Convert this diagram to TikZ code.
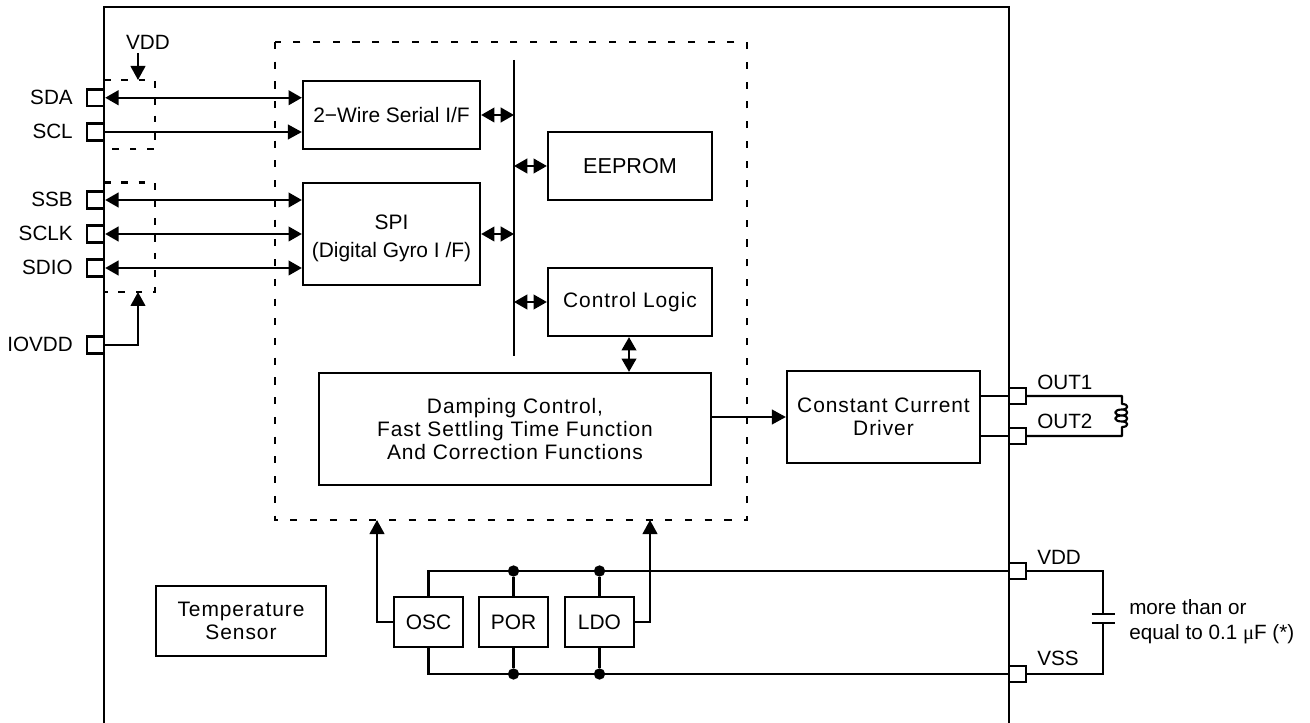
\documentclass[tikz,border=0pt]{standalone}
\usepackage{fontspec}
\setmainfont{Liberation Sans}
\newfontfamily\mufont{Liberation Serif}
\newfontfamily\spaced[LetterSpace=4.5]{Liberation Sans}
\usetikzlibrary{arrows.meta,calc}
\newcommand{\bx}[7][blk]{%
 \node[#1,minimum width={(#5-#3)*0.75pt},minimum height={(#6-#4)*0.75pt}] (#2) at ({(#3+#5)/2},{(#4+#6)/2}) {#7};}
\tikzset{
 blk/.style={draw=black,line width=1.7pt,rectangle,inner sep=0pt,align=center,font=\fontsize{15.7}{19.5}\selectfont},
 spc/.style={blk,font=\spaced\fontsize{15.7}{17.25}\selectfont},
 spib/.style={blk,font=\fontsize{15.7}{21}\selectfont},
 pin/.style={draw=black,line width=1.8pt,rectangle,inner sep=0pt},
 dbig/.style={draw=black,line width=1.6pt,dash pattern=on 5.3pt off 9.5pt},
 dsmall/.style={draw=black,line width=1.6pt,dash pattern=on 5pt off 8pt},
 wire/.style={draw=black,line width=1.6pt},
 arr/.style={wire,-{Triangle[length=10.5pt,width=11pt]}},
 barr/.style={wire,{Triangle[length=10pt,width=11pt]}-{Triangle[length=10pt,width=11pt]}},
 lab/.style={inner sep=0pt,font=\fontsize{15.5}{19.5}\selectfont},
 dot/.style={circle,fill=black,inner sep=0pt,minimum size=8.5pt},
}
\begin{document}
\begin{tikzpicture}[x=0.75pt,y=-0.75pt]
\useasboundingbox (0,0) rectangle (1310,723);
% chip outline
\coordinate (fbl) at (104,723); \coordinate (ftl) at (104,7);
\coordinate (ftr) at (1009,7); \coordinate (fbr) at (1009,723);
\draw[wire,line width=1.8pt] (fbl) -- (ftl) -- (ftr) -- (fbr);
% dashed areas
\draw[dsmall] (104,80) -- (155,80) -- (155,149) -- (104,149);
\draw[dsmall] (104,182.5) -- (155,182.5) -- (155,292) -- (104,292);
\draw[dbig] (275,42) rectangle (747,520);
\coordinate (d1top) at (138,80); \coordinate (d2bot) at (138,292);
\coordinate (dbotL) at (377,520); \coordinate (dbotR) at (650,520);
% blocks
\bx{twi}{303}{81}{480}{149}{2−Wire Serial I/F}
\bx[spib]{spi}{303}{183}{480}{285}{\rule{0pt}{18pt}SPI\\(Digital Gyro I /F)}
\bx[blk,font=\fontsize{16.2}{19}\selectfont]{eep}{548}{132}{712}{200}{EEPROM}
\bx[spc]{ctl}{548}{268}{712}{336}{Control Logic}
\bx[spc]{dmp}{319}{373}{711}{485}{Damping Control,\\Fast Settling Time Function\\And Correction Functions}
\bx[spc]{drv}{787}{371}{980}{463}{Constant Current\\Driver}
\bx[spc]{tmp}{156}{586}{326}{656}{Temperature\\Sensor}
\bx{osc}{394}{597}{463}{647}{OSC}
\bx{por}{479}{597}{548}{647}{POR}
\bx{ldo}{565}{597}{634}{647}{LDO}
% pins
\bx[pin]{psda}{87}{89.5}{104}{106}{}
\bx[pin]{pscl}{87}{123.5}{104}{140.5}{}
\bx[pin]{pssb}{87}{191.5}{104}{208.5}{}
\bx[pin]{psck}{87}{225.5}{104}{242.5}{}
\bx[pin]{psio}{87}{259.5}{104}{276.5}{}
\bx[pin]{piov}{87}{336.5}{104}{353.5}{}
\bx[pin]{pou1}{1009}{388}{1026}{404}{}
\bx[pin]{pou2}{1009}{428}{1026}{444}{}
\bx[pin]{pvdd}{1009}{563}{1026}{579}{}
\bx[pin]{pvss}{1009}{666}{1026}{682}{}
% pin labels
\node[lab,anchor=east] (lsda) at (73,97) {SDA};
\node[lab,anchor=east] (lscl) at (73,131) {SCL};
\node[lab,anchor=east] (lssb) at (73,199) {SSB};
\node[lab,anchor=east] (lsck) at (73,233) {SCLK};
\node[lab,anchor=east] (lsio) at (73,267) {SDIO};
\node[lab,anchor=east] (liov) at (73,344) {IOVDD};
\node[lab] (lvdi) at (148,42) {VDD};
\node[lab,anchor=west] (lou1) at (1037,382) {OUT1};
\node[lab,anchor=west] (lou2) at (1037,421) {OUT2};
\node[lab,anchor=west] (lvdd) at (1037,557) {VDD};
\node[lab,anchor=west] (lvss) at (1037,658) {VSS};
\node[lab,anchor=west] (lcap1) at (1129,607) {more than or};
\node[lab,anchor=west] (lcap2) at (1129,634) {equal to 0.1 {\mufont μ}F (*)};
% left signals
\draw[barr] (psda.east) -- (psda.east -| twi.west);
\draw[arr] (pscl.east) -- (pscl.east -| twi.west);
\draw[barr] (pssb.east) -- (pssb.east -| spi.west);
\draw[barr] (psck.east) -- (psck.east -| spi.west);
\draw[barr] (psio.east) -- (psio.east -| spi.west);
\coordinate (vddtop) at (138,53);
\draw[arr] (vddtop) -- (d1top);
\draw[arr] (piov.east) -| (d2bot);
% bus
\coordinate (bust) at (514,60); \coordinate (busb) at (514,356);
\draw[wire,line width=1.8pt] (bust) -- (busb);
\draw[barr] (twi.east) -- (twi.east -| bust);
\draw[barr] (spi.east) -- (spi.east -| bust);
\draw[barr] (eep.west -| bust) -- (eep.west);
\draw[barr] (ctl.west -| bust) -- (ctl.west);
\coordinate (cd) at (629,0);
\draw[barr] (ctl.south -| cd) -- (dmp.north -| cd);
\draw[arr] (dmp.east |- drv.west) -- (drv.west);
% outputs
\draw[wire] (drv.east |- pou1.west) -- (pou1.west);
\draw[wire] (drv.east |- pou2.west) -- (pou2.west);
\coordinate (clt) at (1122,404); \coordinate (clb) at (1122,427);
\draw[wire,line join=round] (pou1.east) -| (clt)
  .. controls (1129,404) and (1129,409.5) .. (1122,409.5)
  .. controls (1113,409.5) and (1113,415.5) .. (1122,415.5)
  .. controls (1129,415.5) and (1129,409.5) .. (1122,409.5)
  (1122,415.5) .. controls (1113,415.5) and (1113,421.5) .. (1122,421.5)
  .. controls (1129,421.5) and (1129,415.5) .. (1122,415.5)
  (1122,421.5) .. controls (1129,421.5) and (1129,427) .. (clb)
  |- (pou2.east);
% power
\coordinate (capt) at (1103,614); \coordinate (capb) at (1103,623);
\draw[wire] (pvdd.east) -| (capt);
\draw[wire] (pvss.east) -| (capb);
\draw[wire] ($(capt)+(-11.5,0)$) -- ($(capt)+(11.5,0)$);
\draw[wire] ($(capb)+(-11.5,0)$) -- ($(capb)+(11.5,0)$);
\draw[wire] (osc.north) |- (pvdd.west);
\draw[wire] (osc.south) |- (pvss.west);
\node[dot] (dt1) at (por.north |- pvdd.west) {};
\node[dot] (dt2) at (ldo.north |- pvdd.west) {};
\node[dot] (db1) at (por.south |- pvss.west) {};
\node[dot] (db2) at (ldo.south |- pvss.west) {};
\draw[wire] (dt1) -- (por.north);
\draw[wire] (dt2) -- (ldo.north);
\draw[wire] (db1) -- (por.south);
\draw[wire] (db2) -- (ldo.south);
\draw[arr] (osc.west) -| (dbotL);
\draw[arr] (ldo.east) -| (dbotR);
\end{tikzpicture}
\end{document}
